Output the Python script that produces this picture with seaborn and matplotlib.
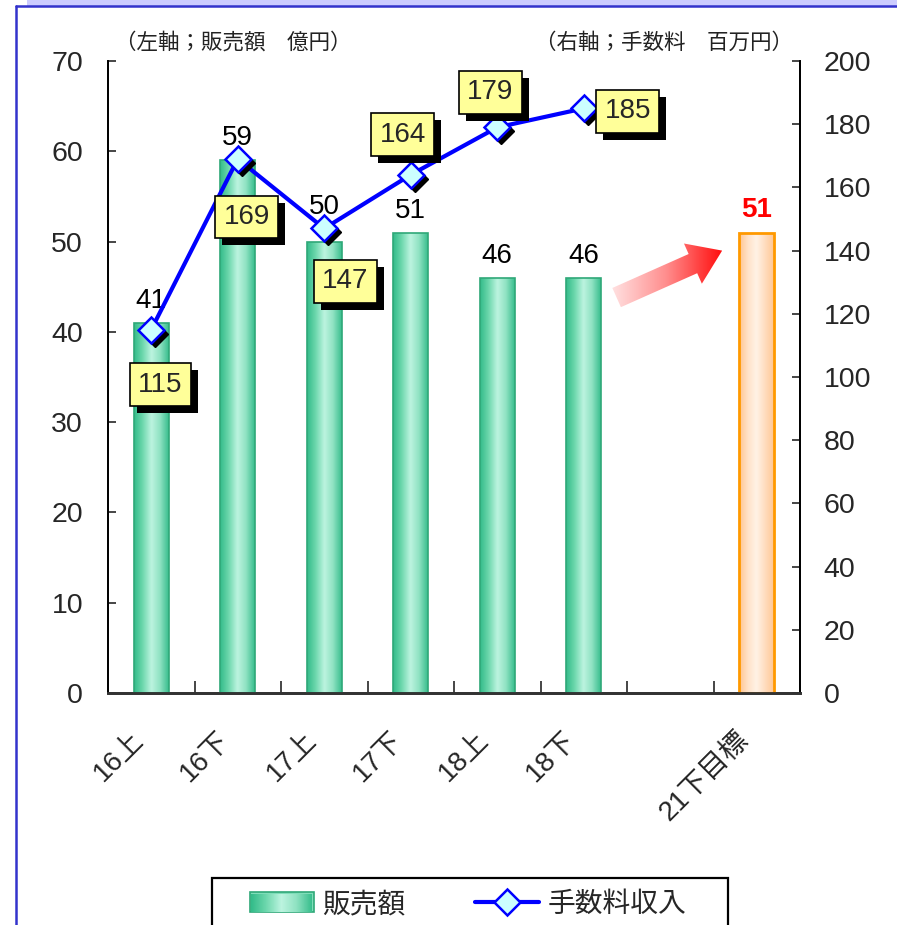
import numpy as np
import pandas as pd
import matplotlib
matplotlib.use('Agg')
import matplotlib.pyplot as plt
import matplotlib.patheffects as pe
import matplotlib.transforms as mtransforms
from matplotlib.patches import Polygon, Patch, Rectangle
from matplotlib.lines import Line2D
from matplotlib.colors import LinearSegmentedColormap
import seaborn as sns

# data
categories = ['16上', '16下', '17上', '17下', '18上', '18下', ' ', '21下目標']
sales = [41, 59, 50, 51, 46, 46, np.nan, 51]      # 販売額 (億円)
fees = [115, 169, 147, 164, 179, 185]             # 手数料収入 (百万円)
sales_label_gap = [9, 9, 22, 9, 9, 9, 9, 10]      # px above bar top
fee_offsets = [(9, -55), (9, -58), (21, -53), (-8, 40), (-7, 35), (44, -3)]  # label box offsets, px

sns.set_style('white')
plt.rcParams['font.family'] = ['Liberation Sans', 'Noto Sans CJK JP', 'DejaVu Sans']

fig = plt.figure(figsize=(8.97, 9.25), dpi=100)
ax = fig.add_axes([108/897, 1-693/925, 692/897, 632/925])

df = pd.DataFrame({'cat': categories, 'sales': sales})
sns.barplot(data=df, x='cat', y='sales', order=categories, width=0.4, ax=ax,
            color='white', edgecolor='#2FA878', linewidth=1.2, zorder=3)

green = LinearSegmentedColormap.from_list('g', ['#34BC8A', '#6FD8AE', '#BDF4E0', '#8FE2C2', '#3ABF8E'])
orange = LinearSegmentedColormap.from_list('o', ['#FFC58F', '#FFE2C8', '#FFF2E6', '#FFDDBF', '#FFC896'])
grad = np.linspace(0, 1, 64)[np.newaxis, :]
bars = [p for p in ax.patches if not np.isnan(p.get_height()) and p.get_height() > 0]
for k, p in enumerate(bars):
    last = k == len(bars) - 1
    p.set_facecolor('none')
    if last:
        p.set_edgecolor('#FF9900')
        p.set_linewidth(2)
    x0, y0, w, h = p.get_x(), p.get_y(), p.get_width(), p.get_height()
    im = ax.imshow(grad, extent=[x0, x0 + w, y0, y0 + h], aspect='auto',
                   cmap=orange if last else green, zorder=2.5, interpolation='bicubic')
    im.set_clip_path(p)

# value labels above bars
for i, v in enumerate(sales):
    if np.isnan(v):
        continue
    last = i == len(sales) - 1
    ax.annotate(f'{v:.0f}', (i, v), xytext=(0, sales_label_gap[i]), textcoords='offset pixels',
                ha='center', va='bottom', fontsize=20,
                color='#FF0000' if last else 'black',
                fontweight='bold' if last else 'normal', zorder=6)

ax.set_ylim(0, 70)
ax.set_yticks(range(0, 71, 10))
ax.set_xlabel('')
ax.set_ylabel('')

# line on right axis
ax2 = ax.twinx()
idx = np.arange(len(fees))
sns.lineplot(x=idx, y=fees, ax=ax2, color='#0000FF', linewidth=3, zorder=4)
shadow = mtransforms.offset_copy(ax2.transData, fig=fig, x=4, y=-4, units='dots')
ax2.plot(idx, fees, ls='none', marker='D', ms=13, color='black', transform=shadow, zorder=4.5)
ax2.plot(idx, fees, ls='none', marker='D', ms=13, mfc='#CCFFFF', mec='#0000FF', mew=1.8, zorder=5)

for i, v in enumerate(fees):
    dx, dy = fee_offsets[i]
    t = ax2.annotate(f'{v}', (i, v), xytext=(dx, dy), textcoords='offset pixels',
                     ha='center', va='center', fontsize=20, zorder=7,
                     bbox=dict(boxstyle='square,pad=0.3', fc='#FFFF99', ec='black', lw=1.2))
    t.get_bbox_patch().set_path_effects([
        pe.SimplePatchShadow(offset=(5, -5), shadow_rgbFace='black', alpha=1.0), pe.Normal()])

ax2.set_ylim(0, 200)
ax2.set_yticks(range(0, 201, 20))
ax.set_xlim(-0.5, len(categories) - 0.5)

# axes styling
for a in (ax, ax2):
    a.spines['top'].set_visible(False)
    a.spines['left'].set_color('black')
    a.spines['right'].set_color('black')
    a.spines['left'].set_linewidth(1.3)
    a.spines['right'].set_linewidth(1.3)
    a.spines['bottom'].set_color('#333333')
    a.spines['bottom'].set_linewidth(2)
    a.grid(False)
ax.tick_params(axis='y', direction='in', length=6, width=1.2, labelsize=20.5, pad=18, left=True)
ax2.tick_params(axis='y', direction='in', length=6, width=1.2, labelsize=20.5, pad=17, right=True)
ax.set_xticks(range(len(categories)))
ax.set_xticklabels(categories, rotation=45, ha='right', va='center', rotation_mode='anchor', fontsize=20)
ax.tick_params(axis='x', which='major', length=0, pad=31)
shift = mtransforms.ScaledTranslation(-12/100, 0, fig.dpi_scale_trans)
for lbl in ax.get_xticklabels():
    lbl.set_transform(lbl.get_transform() + shift)
ax.set_xticks(np.arange(0.5, len(categories) - 1, 1), minor=True)
ax.tick_params(axis='x', which='minor', direction='in', length=9, width=1.2, bottom=True)

# axis titles
ax.text(0.01, 1.012, '（左軸；販売額　億円）', transform=ax.transAxes, fontsize=15.5,
        ha='left', va='bottom', color='#222222')
ax.text(0.99, 1.012, '（右軸；手数料　百万円）', transform=ax2.transAxes, fontsize=15.5,
        ha='right', va='bottom', color='#222222')

# gradient arrow toward target
start = np.array([5.38, 43.8])
end = np.array([6.60, 49.0])
fig.canvas.draw()
s_px = ax.transData.transform(start)
e_px = ax.transData.transform(end)
u = (e_px - s_px) / np.linalg.norm(e_px - s_px)
n = np.array([-u[1], u[0]])
bw, hw, hl = 21, 44, 32
h0 = e_px - u * hl
pts = [s_px + n*bw/2, h0 + n*bw/2, h0 + n*hw/2, e_px, h0 - n*hw/2, h0 - n*bw/2, s_px - n*bw/2]
pts = ax.transData.inverted().transform(np.array(pts))
arrow = Polygon(pts, closed=True, fc='none', ec='none', zorder=3)
ax.add_patch(arrow)
red = LinearSegmentedColormap.from_list('r', ['#FFE0E0', '#FF8C8C', '#FF1010'])
xs, ys = pts[:, 0], pts[:, 1]
aim = ax.imshow(grad, extent=[xs.min(), xs.max(), ys.min(), ys.max()], aspect='auto',
                cmap=red, zorder=3, interpolation='bicubic')
aim.set_clip_path(arrow)
ax.set_xlim(-0.5, len(categories) - 0.5)
ax.set_ylim(0, 70)

# legend (frame drawn separately, it runs off the bottom edge)
handles = [Patch(fc='#7FDDB9', ec='#2FA878', lw=1.2),
           Line2D([], [], color='#0000FF', lw=3, marker='D', ms=13, mfc='#CCFFFF', mec='#0000FF', mew=1.8)]
leg = fig.legend(handles, ['販売額', '手数料収入'], loc='center', ncol=2,
                 bbox_to_anchor=(468/897, 1-905/925), fontsize=20, frameon=False,
                 handlelength=2.3, handleheight=0.75, handletextpad=0.3, columnspacing=2.5,
                 borderpad=0, borderaxespad=0)
fig.patches.append(Rectangle((212/897, -0.02), 516/897, 0.02 + 1-878/925, transform=fig.transFigure,
                             fc='none', ec='black', lw=1.6, zorder=5))

# gradient fill for the legend swatch
fig.canvas.draw()
hb = leg.legend_handles[0].get_window_extent()
wpx, hpx = int(hb.width) - 2, int(hb.height) - 2
if wpx > 0 and hpx > 0:
    sw = green(np.tile(np.linspace(0, 1, wpx), (hpx, 1)))
    fig.figimage(sw, xo=int(hb.x0) + 1, yo=int(hb.y0) + 1, zorder=10, origin='lower')

# outer frame
fig.patches.append(Rectangle((27/897, 1-6/925), 1, 6/925, transform=fig.transFigure,
                             fc='#CCCCFF', ec='none', zorder=0))
fig.add_artist(Line2D([16/897, 1], [1-6/925, 1-6/925], color='#3333CC', lw=1.8, transform=fig.transFigure))
fig.add_artist(Line2D([16/897, 16/897], [0, 1-6/925], color='#3333CC', lw=1.8, transform=fig.transFigure))

fig.savefig('out.png', dpi=100)
